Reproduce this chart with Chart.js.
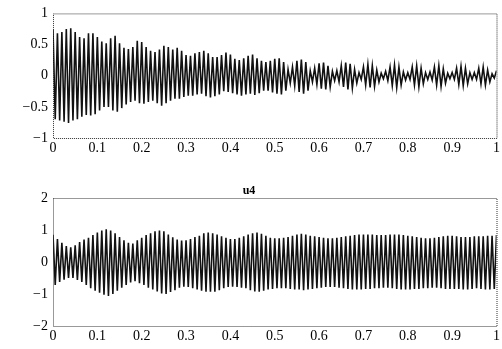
<!DOCTYPE html>
<html>
<head>
<meta charset="utf-8">
<script src="https://cdn.jsdelivr.net/npm/chart.js@4.4.0/dist/chart.umd.min.js"></script>
<style>
  body { margin: 0; background: #fff; }
  .box { position: absolute; left: 0; width: 502px; }
</style>
</head>
<body>
<div class="box" style="top:0;height:160px"><canvas id="top"></canvas></div>
<div class="box" style="top:170px;height:179px"><canvas id="bottom"></canvas></div>
<script>
// sample times, one oscillation cycle per step (peak at t, trough half a step later)
const times = [0.00,0.01,0.02,0.03,0.04,0.05,0.06,0.07,0.08,0.09,
  0.10,0.11,0.12,0.13,0.14,0.15,0.16,0.17,0.18,0.19,
  0.20,0.21,0.22,0.23,0.24,0.25,0.26,0.27,0.28,0.29,
  0.30,0.31,0.32,0.33,0.34,0.35,0.36,0.37,0.38,0.39,
  0.40,0.41,0.42,0.43,0.44,0.45,0.46,0.47,0.48,0.49,
  0.50,0.51,0.52,0.53,0.54,0.55,0.56,0.57,0.58,0.59,
  0.60,0.61,0.62,0.63,0.64,0.65,0.66,0.67,0.68,0.69,
  0.70,0.71,0.72,0.73,0.74,0.75,0.76,0.77,0.78,0.79,
  0.80,0.81,0.82,0.83,0.84,0.85,0.86,0.87,0.88,0.89,
  0.90,0.91,0.92,0.93,0.94,0.95,0.96,0.97,0.98,0.99,1.00];

// top plot: peaks and troughs
const topPeaks = [0.75,0.68,0.70,0.75,0.76,0.70,0.62,0.60,0.68,0.68,
  0.62,0.55,0.52,0.60,0.64,0.52,0.45,0.43,0.46,0.56,
  0.54,0.46,0.40,0.38,0.42,0.48,0.46,0.42,0.45,0.40,
  0.33,0.32,0.36,0.38,0.40,0.36,0.30,0.30,0.33,0.37,
  0.34,0.27,0.25,0.28,0.32,0.34,0.28,0.24,0.22,0.24,
  0.27,0.28,0.22,0.10,0.14,0.24,0.26,0.22,0.08,0.12,
  0.20,0.21,0.16,0.07,0.08,0.16,0.21,0.19,0.10,0.05,
  0.14,0.18,0.16,0.09,0.04,0.07,0.14,0.17,0.14,0.06,
  0.05,0.14,0.16,0.12,0.05,0.06,0.14,0.16,0.11,0.04,
  0.05,0.12,0.15,0.12,0.05,0.05,0.12,0.14,0.09,0.03,0.08];
const topTroughs = [-0.70,-0.72,-0.74,-0.76,-0.72,-0.70,-0.66,-0.63,-0.64,-0.62,
  -0.56,-0.50,-0.50,-0.56,-0.58,-0.52,-0.46,-0.42,-0.40,-0.44,
  -0.45,-0.42,-0.40,-0.44,-0.48,-0.44,-0.40,-0.37,-0.37,-0.34,
  -0.32,-0.32,-0.30,-0.29,-0.33,-0.35,-0.33,-0.30,-0.25,-0.26,
  -0.28,-0.30,-0.32,-0.30,-0.29,-0.31,-0.28,-0.24,-0.24,-0.27,
  -0.29,-0.30,-0.24,-0.12,-0.16,-0.26,-0.29,-0.24,-0.10,-0.14,
  -0.21,-0.22,-0.18,-0.08,-0.10,-0.18,-0.22,-0.20,-0.12,-0.06,
  -0.15,-0.19,-0.17,-0.10,-0.05,-0.08,-0.16,-0.19,-0.15,-0.07,
  -0.06,-0.15,-0.18,-0.13,-0.06,-0.07,-0.15,-0.17,-0.12,-0.05,
  -0.06,-0.14,-0.16,-0.13,-0.06,-0.06,-0.13,-0.15,-0.10,-0.04,-0.08];

// bottom plot (u4)
const u4Peaks = [0.85,0.72,0.60,0.50,0.46,0.52,0.62,0.70,0.76,0.84,
  0.92,0.98,1.02,0.98,0.90,0.78,0.68,0.60,0.58,0.68,
  0.76,0.84,0.90,0.96,0.98,0.96,0.86,0.77,0.70,0.67,
  0.68,0.72,0.78,0.82,0.90,0.92,0.90,0.86,0.80,0.76,
  0.72,0.72,0.76,0.80,0.86,0.90,0.92,0.88,0.82,0.76,
  0.74,0.74,0.76,0.78,0.82,0.86,0.88,0.86,0.82,0.80,
  0.78,0.76,0.74,0.74,0.76,0.78,0.80,0.82,0.84,0.86,
  0.86,0.86,0.86,0.84,0.84,0.84,0.86,0.86,0.86,0.84,
  0.82,0.80,0.78,0.76,0.74,0.74,0.76,0.78,0.80,0.82,
  0.82,0.80,0.78,0.78,0.78,0.80,0.80,0.80,0.82,0.82,0.84];
const u4Troughs = [-0.72,-0.62,-0.55,-0.50,-0.50,-0.56,-0.62,-0.72,-0.82,-0.90,
  -0.96,-1.02,-1.06,-1.00,-0.90,-0.80,-0.72,-0.64,-0.60,-0.66,
  -0.72,-0.80,-0.86,-0.92,-0.98,-1.00,-0.94,-0.88,-0.80,-0.77,
  -0.78,-0.82,-0.86,-0.90,-0.93,-0.93,-0.93,-0.88,-0.82,-0.78,
  -0.77,-0.78,-0.80,-0.82,-0.88,-0.92,-0.93,-0.90,-0.86,-0.84,
  -0.82,-0.82,-0.82,-0.84,-0.86,-0.86,-0.88,-0.86,-0.84,-0.82,
  -0.80,-0.78,-0.78,-0.78,-0.80,-0.82,-0.84,-0.86,-0.86,-0.86,
  -0.84,-0.84,-0.82,-0.82,-0.80,-0.80,-0.82,-0.84,-0.86,-0.86,
  -0.86,-0.84,-0.84,-0.82,-0.82,-0.80,-0.80,-0.82,-0.84,-0.84,
  -0.84,-0.84,-0.86,-0.86,-0.84,-0.82,-0.84,-0.86,-0.86,-0.84,-0.82];

const xTicks = [0,0.1,0.2,0.3,0.4,0.5,0.6,0.7,0.8,0.9,1];

const FONT = { family: "'Liberation Serif', 'DejaVu Serif', serif", size: 14 };

function buildSignal(peaks, troughs) {
  let pts = []
  const half = (times[1] - times[0]) / 2
  times.forEach((t, i) => {
    pts.push({x: t, y: peaks[i]})
    if (i < times.length - 1) pts.push({x: t + half, y: troughs[i]})
  })
  return pts
}

function fmt(v) {
  if (v < 0) return '\u2212' + String(-v)
  return String(v)
}

// MATLAB style box round the plot area
const boxPlugin = {
  id: 'box',
  afterDraw(chart) {
    const {ctx, chartArea: a} = chart
    ctx.save()
    ctx.strokeStyle = '#333'
    ctx.lineWidth = 1
    ctx.setLineDash([1, 1])
    ctx.strokeRect(a.left + 0.5, a.top + 0.5, a.right - a.left, a.bottom - a.top)
    ctx.restore()
  }
}

function renderChart(id, peaks, troughs, yMin, yMax, yStep, padTop, xHeight, title) {
  const data = {
    datasets: [{
      data: buildSignal(peaks, troughs),
      borderColor: '#111',
      borderWidth: 1.6,
      pointRadius: 0,
      tension: 0
    }]
  };

  const config = {
    type: 'line',
    data,
    options: {
      responsive: true,
      maintainAspectRatio: false,
      animation: false,
      layout: { padding: { top: padTop, right: 4, left: 0, bottom: 0 } },
      plugins: {
        legend: { display: false },
        tooltip: { enabled: false },
        title: {
          display: !!title,
          text: title || '',
          color: '#000',
          font: { family: FONT.family, size: 12, weight: 'bold', lineHeight: 1 },
          padding: { top: 0, bottom: 1 }
        }
      },
      scales: {
        x: {
          type: 'linear',
          min: 0, max: 1,
          afterBuildTicks: axis => { axis.ticks = xTicks.map(v => ({value: v})) },
          afterFit: axis => { axis.height = xHeight },
          grid: { display: false, drawTicks: false },
          border: { display: false },
          ticks: { color: '#000', font: FONT, padding: 2, maxRotation: 0, autoSkip: false, callback: v => fmt(v) }
        },
        y: {
          min: yMin, max: yMax,
          afterFit: axis => { axis.width = 53 },
          grid: { display: false, drawTicks: false },
          border: { display: false },
          ticks: { color: '#000', font: FONT, padding: 5, stepSize: yStep, callback: v => fmt(v) }
        }
      }
    },
    plugins: [boxPlugin]
  };

  new Chart(document.getElementById(id), config)
}

renderChart('top', topPeaks, topTroughs, -1, 1, 0.5, 11, 22, null)
renderChart('bottom', u4Peaks, u4Troughs, -2, 2, 1, 15, 23, 'u4')
</script>
</body>
</html>
